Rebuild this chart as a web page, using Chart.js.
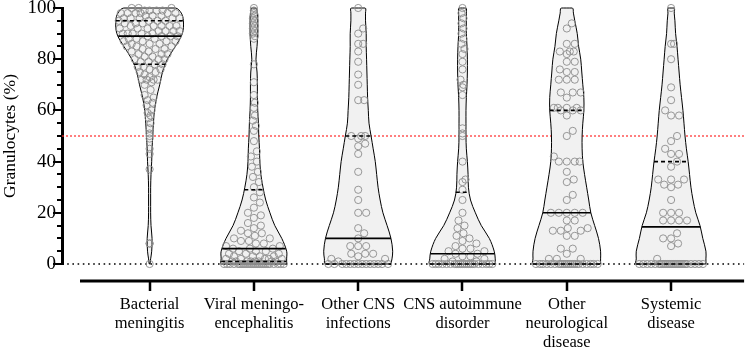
<!DOCTYPE html>
<html>
<head>
<meta charset="utf-8">
<script src="https://cdn.jsdelivr.net/npm/chart.js@4.4.1/dist/chart.umd.min.js"></script>
<style>
  html, body { margin: 0; padding: 0; background: #fff; }
  #wrap { width: 749px; height: 349px; }
</style>
</head>
<body>
<div id="wrap"><canvas id="chart" width="749" height="349"></canvas></div>
<script>
"use strict";

// categories (one label line per entry)
const CATEGORIES = [
    ["Bacterial", "meningitis"],
    ["Viral meningo-", "encephalitis"],
    ["Other CNS", "infections"],
    ["CNS autoimmune", "disorder"],
    ["Other", "neurological", "disease"],
    ["Systemic", "disease"]
];
const Y_TICKS = [0, 20, 40, 60, 80, 100];
const CUTOFF = 50;

// granulocytes (%) per patient
const bacterial = [100, 100, 100, 99, 99, 99, 99, 98, 98, 98, 98, 98, 98, 97, 97, 97, 96, 96, 96, 96, 96,
    95, 95, 95, 95, 94, 94, 94, 93, 93, 93, 93, 93, 92, 92, 92, 91, 91, 91, 91, 90, 90, 90, 90, 90,
    89, 89, 89, 89, 88, 88, 88, 87, 87, 87, 87, 86, 86, 86, 85, 85, 85, 84, 84, 84, 83, 83, 82, 82, 82,
    81, 81, 80, 80, 80, 79, 79, 78, 78, 77, 77, 76, 76, 75, 75, 74, 73, 72, 72, 72, 72, 71, 70,
    68, 66, 65, 64, 63, 62, 60, 59, 58, 57, 55, 53, 51, 50, 49, 45, 43, 37, 8, 8, 0];
const viral = [100, 99, 98, 97, 96, 95, 94, 93, 92, 91, 90, 89, 88, 78, 71, 66, 63, 61, 58, 56, 54, 52,
    48, 44, 42, 40, 38, 36, 34, 32, 30, 28, 26, 24, 22, 20, 19, 18, 16, 15, 14, 13, 12, 12, 11, 10, 10,
    9, 9, 8, 8, 7, 7, 6, 6, 6, 5, 5, 5, 4, 4, 4, 3, 3, 3, 3, 2, 2, 2, 2, 2, 1, 1, 1, 1, 1, 1, 1, 1,
    0, 0, 0, 0, 0, 0, 0, 0, 0, 0, 0, 0, 0, 0, 0, 0, 0, 0, 0, 0, 0, 0, 0, 0, 0];
const otherCns = [100, 92, 90, 86, 86, 83, 79, 74, 70, 64, 64, 50, 50, 50, 49, 47, 46, 43, 36, 29, 25,
    20, 20, 14, 12, 10, 7, 7, 7, 4, 4, 4, 3, 2, 2, 1, 0, 0, 0, 0, 0, 0, 0, 0, 0, 0, 0, 0, 0, 0];
const autoimmune = [100, 98, 96, 94, 92, 90, 88, 86, 84, 82, 79, 76, 72, 70, 69, 66, 53, 51, 50, 40, 33,
    32, 29, 25, 20, 17, 15, 14, 12, 11, 10, 9, 8, 7, 6, 6, 5, 5, 4, 4, 3, 3, 2, 2, 1, 1,
    0, 0, 0, 0, 0, 0, 0, 0, 0, 0, 0, 0, 0, 0, 0, 0, 0, 0, 0, 0, 0, 0];
const otherNeuro = [94, 92, 86, 86, 83, 83, 83, 82, 79, 79, 76, 75, 75, 72, 72, 72, 67, 67, 67, 65, 61,
    61, 61, 61, 60, 60, 60, 58, 52, 50, 42, 40, 40, 40, 40, 36, 33, 32, 27, 25, 20, 20, 20, 20, 20,
    17, 17, 14, 14, 13, 13, 13, 11, 11, 6, 6, 4, 2, 2, 2,
    0, 0, 0, 0, 0, 0, 0, 0, 0, 0, 0, 0, 0, 0, 0, 0, 0, 0, 0, 0, 0, 0];
const systemic = [100, 86, 86, 80, 69, 64, 60, 58, 58, 50, 48, 45, 43, 43, 40, 38, 33, 33, 33, 31, 31,
    30, 25, 20, 20, 20, 17, 17, 17, 17, 12, 10, 10, 8, 7, 2,
    0, 0, 0, 0, 0, 0, 0, 0, 0, 0, 0, 0, 0, 0, 0, 0, 0, 0, 0, 0, 0, 0, 0, 0];
const GROUPS = [bacterial, viral, otherCns, autoimmune, otherNeuro, systemic];

// violin density (relative width) at these levels
const LEVELS = [0, 2, 5, 10, 15, 20, 25, 30, 35, 40, 45, 50, 55, 60, 65, 70, 75, 80, 85, 90, 95, 98, 100];
const densBacterial = [0.01, 0.03, 0.06, 0.07, 0.04, 0.03, 0.03, 0.03, 0.04, 0.06, 0.07, 0.09, 0.11, 0.14, 0.2, 0.29, 0.37, 0.51, 0.74, 0.94, 0.97, 0.91, 0.74];
const densViral = [0.94, 0.94, 0.94, 0.8, 0.6, 0.46, 0.34, 0.26, 0.2, 0.17, 0.16, 0.14, 0.13, 0.11, 0.1, 0.1, 0.09, 0.06, 0.09, 0.11, 0.11, 0.1, 0.06];
const densOtherCns = [0.94, 0.97, 0.99, 0.94, 0.83, 0.71, 0.63, 0.57, 0.53, 0.49, 0.43, 0.37, 0.31, 0.29, 0.27, 0.26, 0.25, 0.24, 0.23, 0.23, 0.21, 0.21, 0.2];
const densAutoimmune = [0.94, 0.94, 0.91, 0.77, 0.54, 0.37, 0.23, 0.17, 0.16, 0.14, 0.11, 0.1, 0.1, 0.1, 0.11, 0.13, 0.14, 0.14, 0.13, 0.11, 0.11, 0.11, 0.1];
const densOtherNeuro = [0.97, 0.97, 0.97, 0.91, 0.8, 0.69, 0.63, 0.57, 0.51, 0.46, 0.44, 0.44, 0.46, 0.49, 0.49, 0.46, 0.43, 0.4, 0.34, 0.3, 0.23, 0.19, 0.16];
const densSystemic = [1, 1, 1, 0.91, 0.83, 0.71, 0.63, 0.57, 0.53, 0.49, 0.44, 0.4, 0.37, 0.34, 0.3, 0.26, 0.23, 0.2, 0.17, 0.13, 0.11, 0.09, 0.09];
const DENSITIES = [densBacterial, densViral, densOtherCns, densAutoimmune, densOtherNeuro, densSystemic];

const MEDIANS = [89, 6, 10, 4, 20, 14.5];
const Q1 = [78, 1, 0, 0, 0, 0];
const Q3 = [95, 29, 50, 28, 60, 40];

// layout helpers
const X_MIN = 0.16, X_MAX = 6.7;
const PX_X = 104.8, PX_Y = 2.56;   // approx. pixels per unit, only for point spacing
const MAX_HALF = 0.334;            // violin half width (x units) at density 1

function densityAt(dens, v) {
    for (let i = 1; i < LEVELS.length; i++) {
        if (v <= LEVELS[i]) {
            let t = (v - LEVELS[i - 1]) / (LEVELS[i] - LEVELS[i - 1]);
            return dens[i - 1] + t * (dens[i] - dens[i - 1]);
        }
    }
    return dens[dens.length - 1];
}

function outline(center, dens) {
    let right = LEVELS.map((y, i) => ({ x: center + dens[i] * MAX_HALF, y: y }));
    let left = LEVELS.map((y, i) => ({ x: center - dens[i] * MAX_HALF, y: y })).reverse();
    return right.concat(left, [right[0]]);
}

// simple beeswarm, kept inside the violin
function swarm(values, center, dens) {
    const R = 3.6, D = 7.2;
    let placed = [];
    let sorted = values.slice().sort((a, b) => a - b);
    return sorted.map(v => {
        let py = v * PX_Y;
        let lim = Math.max(Math.floor(densityAt(dens, v) * MAX_HALF * PX_X - R + 1), 0);
        let best = 0, bestGap = -1;
        for (let k = 0; k <= 2 * lim; k++) {
            let off = (k % 2 ? 1 : -1) * Math.ceil(k / 2);
            let gap = Infinity;
            for (let p of placed) {
                let d = Math.hypot(p[0] - off, p[1] - py);
                if (d < gap) gap = d;
            }
            if (gap >= D) { best = off; break; }
            if (gap > bestGap) { bestGap = gap; best = off; }
        }
        placed.push([best, py]);
        return { x: center + best / PX_X, y: v };
    });
}

let datasets = [];
datasets.push({
    type: "line", data: [{ x: X_MIN, y: CUTOFF }, { x: X_MAX, y: CUTOFF }],
    borderColor: "#ff2a2a", borderWidth: 1.2, borderDash: [2, 2], pointRadius: 0, order: 6
});
datasets.push({
    type: "line", data: [{ x: X_MIN, y: 0 }, { x: X_MAX, y: 0 }],
    borderColor: "#000", borderWidth: 1.6, borderDash: [1.6, 3.6], pointRadius: 0, order: 6, clip: false
});
GROUPS.forEach((vals, i) => {
    let c = i + 1;
    let dens = DENSITIES[i];
    datasets.push({
        type: "line", data: outline(c, dens), fill: "shape", tension: 0.35,
        backgroundColor: "#f1f1f1", borderColor: "#000", borderWidth: 1,
        pointRadius: 0, order: 4, clip: false
    });
    datasets.push({
        data: swarm(vals, c, dens), pointRadius: 3.6, borderWidth: 0.9,
        borderColor: "#8c8c8c", backgroundColor: "rgba(0,0,0,0)", order: 2, clip: false
    });
    [[MEDIANS[i], []], [Q1[i], [4, 3]], [Q3[i], [4, 3]]].forEach(function (q) {
        let w = densityAt(dens, q[0]) * MAX_HALF;
        datasets.push({
            type: "line", data: [{ x: c - w, y: q[0] }, { x: c + w, y: q[0] }],
            borderColor: "#000", borderWidth: 1.6, borderDash: q[1], pointRadius: 0, order: 1, clip: false
        });
    });
});

// y minor/major ticks and the offset x axis line
const axisDecor = {
    id: "axisDecor",
    afterDraw(chart) {
        let ctx = chart.ctx;
        let area = chart.chartArea;
        let x = chart.scales.x, y = chart.scales.y;
        ctx.save();
        ctx.strokeStyle = "#000";
        ctx.lineWidth = 2;
        for (let v = 0; v <= 100; v += 5) {
            let py = Math.round(y.getPixelForValue(v));
            let len = v % 20 === 0 ? 9 : 5;
            ctx.beginPath();
            ctx.moveTo(area.left - len, py);
            ctx.lineTo(area.left, py);
            ctx.stroke();
        }
        let by = area.bottom + 17;
        ctx.lineWidth = 3;
        ctx.beginPath();
        ctx.moveTo(area.left + 18, by);
        ctx.lineTo(area.right, by);
        ctx.stroke();
        ctx.lineWidth = 2.5;
        CATEGORIES.forEach((c, i) => {
            let px = Math.round(x.getPixelForValue(i + 1));
            ctx.beginPath();
            ctx.moveTo(px, by);
            ctx.lineTo(px, by + 10);
            ctx.stroke();
        });
        ctx.restore();
    }
};

Chart.defaults.font.family = "'Liberation Serif', 'Times New Roman', serif";
Chart.defaults.color = "#000";

new Chart(document.getElementById("chart"), {
    type: "scatter",
    data: { datasets: datasets },
    options: {
        responsive: false,
        animation: false,
        events: [],
        layout: { padding: { top: 8, right: 2, left: 0, bottom: 0 } },
        plugins: { legend: { display: false }, tooltip: { enabled: false } },
        scales: {
            x: {
                type: "linear", min: X_MIN, max: X_MAX,
                afterBuildTicks: s => { s.ticks = CATEGORIES.map((c, i) => ({ value: i + 1 })); },
                afterFit: s => { s.height = 85; s.paddingLeft = 0; s.paddingRight = 0; },
                ticks: {
                    autoSkip: false, maxRotation: 0, padding: 31,
                    font: { size: 16.5, lineHeight: 1.16 },
                    callback: (v) => CATEGORIES[Math.round(v) - 1]
                },
                grid: { display: false, drawTicks: false },
                border: { display: false }
            },
            y: {
                type: "linear", min: 0, max: 100,
                afterBuildTicks: s => { s.ticks = Y_TICKS.map(v => ({ value: v })); },
                afterFit: s => { s.width = 62; s.paddingTop = 0; s.paddingBottom = 0; },
                ticks: { autoSkip: false, padding: 6, font: { size: 19 } },
                grid: { drawOnChartArea: false, drawTicks: false },
                border: { display: true, color: "#000", width: 3 },
                title: { display: true, text: "Granulocytes (%)", font: { size: 17.5 }, padding: 0 }
            }
        }
    },
    plugins: [axisDecor]
});
</script>
</body>
</html>
